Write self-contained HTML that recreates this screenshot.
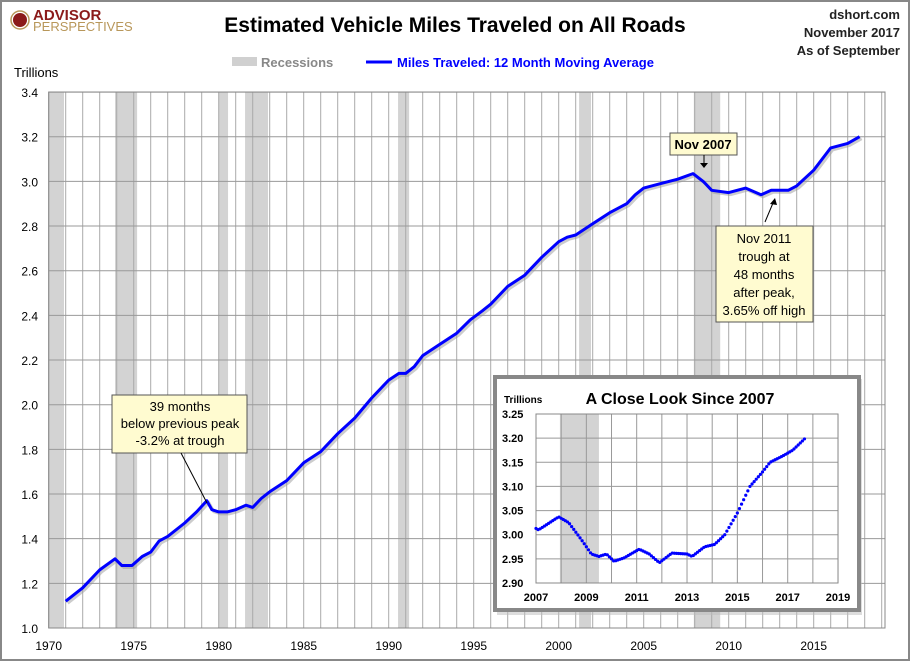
<!DOCTYPE html><html><head><meta charset="utf-8"><style>
body{margin:0;background:#fff}
svg{display:block;font-family:"Liberation Sans",sans-serif}
</style></head><body>
<svg id="s" width="910" height="661" xmlns="http://www.w3.org/2000/svg">
<rect x="1" y="1" width="908" height="659" fill="#fff" stroke="#888" stroke-width="2"/>
<g id="main"></g>
<text x="455" y="32" text-anchor="middle" font-size="21" font-weight="bold">Estimated Vehicle Miles Traveled on All Roads</text>
<text x="900" y="19" text-anchor="end" font-size="13" font-weight="bold" fill="#222">dshort.com</text>
<text x="900" y="37" text-anchor="end" font-size="13" font-weight="bold" fill="#222">November 2017</text>
<text x="900" y="55" text-anchor="end" font-size="13" font-weight="bold" fill="#222">As of September</text>
<circle cx="20" cy="20" r="7" fill="#8b1a1a"/><circle cx="20" cy="20" r="9" fill="none" stroke="#b8975a" stroke-width="1.5"/>
<text x="33" y="20" font-size="15" font-weight="bold" fill="#8b1a1a">ADVISOR</text>
<text x="33" y="31" font-size="13" fill="#b8975a">PERSPECTIVES</text>
<rect x="232" y="57" width="25" height="9" fill="#d0d0d0"/>
<text x="261" y="67" font-size="13" font-weight="bold" fill="#888">Recessions</text>
<line x1="366" y1="62" x2="392" y2="62" stroke="#00f" stroke-width="3"/>
<text x="397" y="67" font-size="13" font-weight="bold" fill="#00f">Miles Traveled: 12 Month Moving Average</text>
<text x="14" y="77" font-size="13">Trillions</text>
<g id="ann"></g>
</svg>
<script>
var ns="http://www.w3.org/2000/svg";
function el(p,t,a,txt){var e=document.createElementNS(ns,t);for(var k in a)e.setAttribute(k,a[k]);if(txt!=null)e.textContent=txt;p.appendChild(e);return e;}
var m=document.getElementById('main');
var X=function(y){return 48.7+17*(y-1970)}, Y=function(v){return 628-(v-1)*223.3};
var L=48.7,R=885,T=92,B=628;
var rec=[[1970,1970.9],[1973.9,1975.2],[1980,1980.55],[1981.55,1982.9],[1990.55,1991.2],[2001.2,2001.9],[2007.95,2009.5]];
rec.forEach(function(r){el(m,'rect',{x:X(r[0]),y:T,width:X(r[1])-X(r[0]),height:B-T,fill:'#d3d3d3'})});
for(var y=1970;y<=2019;y++){el(m,'line',{x1:X(y),x2:X(y),y1:T,y2:B,stroke:'#aaa','stroke-width':1})}
for(var v=1;v<=3.41;v+=0.2){el(m,'line',{x1:L,x2:R,y1:Y(v),y2:Y(v),stroke:'#999','stroke-width':1});el(m,'text',{x:38,y:Y(v)+5,'text-anchor':'end','font-size':12},v.toFixed(1));}
el(m,'rect',{x:L,y:T,width:R-L,height:B-T,fill:'none',stroke:'#888'});
for(var y=1970;y<=2015;y+=5)el(m,'text',{x:X(y),y:650,'text-anchor':'middle','font-size':12},y);
var d=[[1971,1.12],[1972,1.18],[1973,1.26],[1973.9,1.31],[1974.3,1.28],[1974.9,1.28],[1975.5,1.32],[1976,1.34],[1976.5,1.39],[1977,1.41],[1978,1.47],[1978.7,1.52],[1979.3,1.57],[1979.6,1.53],[1980,1.52],[1980.5,1.52],[1981,1.53],[1981.6,1.55],[1982,1.54],[1982.5,1.58],[1983,1.61],[1984,1.66],[1985,1.74],[1986,1.79],[1987,1.87],[1988,1.94],[1989,2.03],[1990,2.11],[1990.6,2.14],[1991,2.14],[1991.5,2.17],[1992,2.22],[1993,2.27],[1994,2.32],[1994.8,2.38],[1995.5,2.42],[1996,2.45],[1997,2.53],[1998,2.58],[1999,2.66],[2000,2.73],[2000.5,2.75],[2001,2.76],[2002,2.81],[2003,2.86],[2004,2.9],[2004.5,2.94],[2005,2.97],[2006,2.99],[2007,3.01],[2007.9,3.035],[2008.5,3.0],[2009,2.96],[2010,2.95],[2011,2.97],[2011.9,2.94],[2012.5,2.96],[2013.5,2.96],[2014,2.98],[2015,3.05],[2016,3.15],[2017,3.17],[2017.7,3.2]];
var p=d.map(function(a,i){return (i?'L':'M')+X(a[0]).toFixed(1)+' '+Y(a[1]).toFixed(1)}).join('');
el(m,'path',{d:p,fill:'none',stroke:'#999','stroke-width':3,opacity:0.5,transform:'translate(2,2)'});
el(m,'path',{d:p,fill:'none',stroke:'#00f','stroke-width':3,'stroke-linejoin':'round'});
var a=document.getElementById('ann');
el(a,'rect',{x:670,y:133,width:67,height:22,fill:'#fffbd0',stroke:'#555'});
el(a,'text',{x:703,y:149,'text-anchor':'middle','font-size':13,'font-weight':'bold'},'Nov 2007');
el(a,'line',{x1:704,y1:155,x2:704,y2:164,stroke:'#000'});el(a,'path',{d:'M700 163 L708 163 L704 168Z'});
el(a,'rect',{x:716,y:226,width:97,height:96,fill:'#fffbd0',stroke:'#555'});
['Nov 2011','trough at','48 months','after peak,','3.65% off high'].forEach(function(t,i){el(a,'text',{x:764,y:243+i*18,'text-anchor':'middle','font-size':13},t)});
el(a,'line',{x1:765,y1:222,x2:773,y2:203,stroke:'#000'});el(a,'path',{d:'M770 204 L777 205 L775 198Z'});
el(a,'rect',{x:112,y:395,width:135,height:58,fill:'#fffbd0',stroke:'#555'});
['39 months','below previous peak','-3.2% at trough'].forEach(function(t,i){el(a,'text',{x:180,y:411+i*17,'text-anchor':'middle','font-size':13},t)});
el(a,'line',{x1:181,y1:453,x2:207,y2:503,stroke:'#000'});
// inset
el(a,'rect',{x:497,y:379,width:365,height:236,fill:'#bbb',opacity:0.5});
el(a,'rect',{x:495,y:377,width:364,height:233,fill:'#fff',stroke:'#888','stroke-width':4});
var IX=function(y){return 536+25.17*(y-2007)},IY=function(v){return 583-(v-2.9)*482.9};
el(a,'rect',{x:IX(2007.95),y:414,width:IX(2009.5)-IX(2007.95),height:169,fill:'#d3d3d3'});
for(var y=2007;y<=2019;y++){el(a,'line',{x1:IX(y),x2:IX(y),y1:414,y2:583,stroke:'#999'});if(y%2==1)el(a,'text',{x:IX(y),y:601,'text-anchor':'middle','font-size':11,'font-weight':'bold'},y);}
for(var i=0;i<=7;i++){var v=2.9+i*0.05;el(a,'line',{x1:536,x2:838,y1:IY(v),y2:IY(v),stroke:'#999'});el(a,'text',{x:502,y:IY(v)+4,'font-size':11,'font-weight':'bold'},v.toFixed(2));}
el(a,'rect',{x:536,y:414,width:302,height:169,fill:'none',stroke:'#888'});
el(a,'text',{x:504,y:403,'font-size':10,'font-weight':'bold'},'Trillions');
el(a,'text',{x:680,y:404,'text-anchor':'middle','font-size':16,'font-weight':'bold'},'A Close Look Since 2007');
var q=[[2007,3.013],[2007.1,3.01],[2007.9,3.037],[2008.3,3.025],[2008.8,2.99],[2009.2,2.96],[2009.5,2.955],[2009.8,2.96],[2010.1,2.945],[2010.5,2.952],[2011.1,2.97],[2011.5,2.96],[2011.9,2.942],[2012.4,2.962],[2013.0,2.96],[2013.2,2.955],[2013.7,2.975],[2014.1,2.98],[2014.5,3.0],[2015.0,3.045],[2015.5,3.1],[2016.0,3.13],[2016.3,3.15],[2016.8,3.163],[2017.2,3.175],[2017.7,3.2]];
for(var t=2007;t<=2017.7;t+=1/12){for(var j=0;j<q.length-1&&q[j+1][0]<t;j++);var a0=q[j],a1=q[Math.min(j+1,q.length-1)];var f=a1[0]==a0[0]?0:(t-a0[0])/(a1[0]-a0[0]);var v=a0[1]+(a1[1]-a0[1])*f;el(a,'circle',{cx:IX(t),cy:IY(v),r:1.6,fill:'#00f'});}
</script>
</body></html>
